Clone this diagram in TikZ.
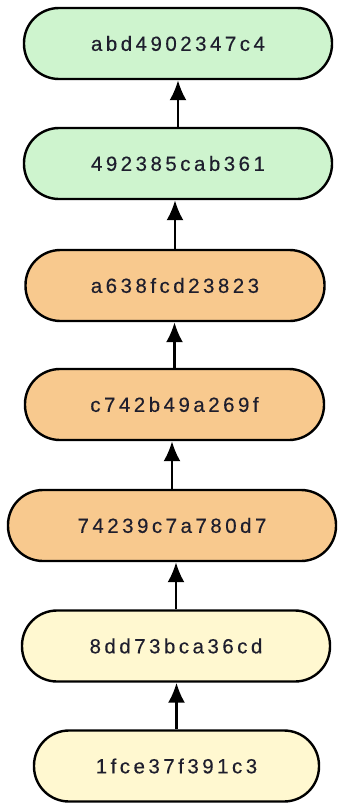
\documentclass[tikz,border=0pt]{standalone}
\usepackage{fontspec}
\setmainfont{Liberation Sans}[FakeBold=0.25]
\usetikzlibrary{arrows.meta}

\definecolor{mergegreen}{RGB}{206,244,206}
\definecolor{branchorange}{RGB}{248,201,142}
\definecolor{baseyellow}{RGB}{255,248,208}
\definecolor{hashtext}{RGB}{30,30,45}

\tikzset{
  commit/.style={draw,line width=2.4pt,rounded corners=35pt,minimum height=71pt,inner sep=0pt,
    text=hashtext,font={\addfontfeatures{LetterSpace=17}\fontsize{20.5}{24}\selectfont}}
}

\begin{document}
\begin{tikzpicture}[x=1pt,y=-1pt]
  \useasboundingbox (0,0) rectangle (338,803);
  \foreach \id/\txt/\col/\x/\y/\w in {
      n1/abd4902347c4/mergegreen/178/43.5/308,
      n2/492385cab361/mergegreen/178/163.5/308,
      n3/a638fcd23823/branchorange/175/285.5/299,
      n4/c742b49a269f/branchorange/174.5/404.5/299,
      n5/74239c7a780d7/branchorange/172/525.5/328,
      n6/8dd73bca36cd/baseyellow/176/646/308,
      n7/1fce37f391c3/baseyellow/176.5/766/285}
  {
      \node[commit,fill=\col,minimum width=\w pt] (\id) at (\x,\y) {\txt};
  }
  \foreach \a/\b in {n7/n6,n6/n5,n5/n4,n4/n3,n3/n2,n2/n1}
      \draw[line width=2.4pt,-{Latex[length=20pt,width=17pt]}] (\a.north) -- (\a.north |- \b.south);
\end{tikzpicture}
\end{document}
